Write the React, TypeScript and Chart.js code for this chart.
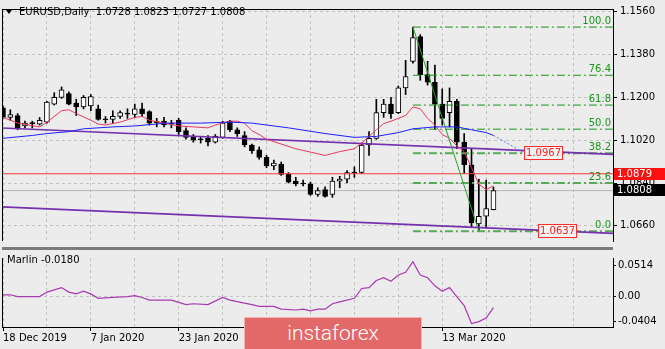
import React, { useEffect, useRef } from "react";
import { Chart, registerables } from "chart.js";

Chart.register(...registerables);

// ---------- DATA ----------
const openP = [1.1156,1.1116,1.1124,1.1080,1.1094,1.1088,1.1096,1.1172,1.1200,1.1216,1.1176,1.1160,1.1164,1.1152,1.1110,1.1108,1.1120,1.1134,1.1128,1.1152,1.1140,1.1098,1.1100,1.1092,1.1104,1.1060,1.1036,1.1026,1.1028,1.1012,1.1032,1.1100,1.1064,1.1040,1.1000,1.0980,1.0948,1.0912,1.0920,1.0876,1.0848,1.0840,1.0836,1.0792,1.0812,1.0792,1.0848,1.0856,1.0886,1.0884,1.1000,1.1028,1.1136,1.1172,1.1136,1.1240,1.1352,1.1456,1.1296,1.1264,1.1172,1.1136,1.1184,1.1012,1.0916,1.0668,1.0700,1.0728];
const highP = [1.1164,1.1148,1.1132,1.1100,1.1100,1.1116,1.1184,1.1220,1.1244,1.1224,1.1192,1.1208,1.1212,1.1168,1.1120,1.1144,1.1144,1.1152,1.1172,1.1176,1.1144,1.1112,1.1116,1.1104,1.1112,1.1072,1.1044,1.1036,1.1040,1.1044,1.1100,1.1104,1.1072,1.1056,1.1004,1.0992,1.0956,1.0936,1.0928,1.0884,1.0864,1.0852,1.0844,1.0820,1.0824,1.0864,1.0868,1.0892,1.0908,1.1008,1.1056,1.1192,1.1192,1.1200,1.1248,1.1356,1.1496,1.1464,1.1352,1.1336,1.1236,1.1240,1.1192,1.1048,1.0984,1.0856,1.0852,1.0823];
const lowP = [1.1112,1.1104,1.1064,1.1072,1.1072,1.1084,1.1092,1.1168,1.1196,1.1168,1.1124,1.1152,1.1144,1.1104,1.1092,1.1092,1.1112,1.1112,1.1116,1.1120,1.1084,1.1076,1.1076,1.1072,1.1044,1.1024,1.1012,1.1008,1.0996,1.1008,1.1028,1.1056,1.1036,1.0992,1.0964,1.0940,1.0904,1.0896,1.0872,1.0840,1.0828,1.0828,1.0788,1.0784,1.0780,1.0780,1.0820,1.0840,1.0864,1.0880,1.0956,1.1024,1.1116,1.1112,1.1132,1.1212,1.1344,1.1272,1.1252,1.1064,1.1084,1.1076,1.0984,1.0880,1.0656,1.0637,1.0650,1.0727];
const closeP = [1.1116,1.1128,1.1072,1.1092,1.1090,1.1104,1.1180,1.1200,1.1232,1.1172,1.1160,1.1200,1.1204,1.1108,1.1106,1.1120,1.1136,1.1130,1.1152,1.1132,1.1092,1.1094,1.1084,1.1088,1.1056,1.1032,1.1020,1.1022,1.1012,1.1036,1.1092,1.1064,1.1048,1.1000,1.0976,1.0948,1.0912,1.0924,1.0876,1.0844,1.0836,1.0836,1.0792,1.0808,1.0784,1.0848,1.0856,1.0884,1.0882,1.1000,1.1028,1.1136,1.1172,1.1132,1.1240,1.1288,1.1452,1.1296,1.1264,1.1172,1.1112,1.1184,1.1012,1.0916,1.0672,1.0700,1.0732,1.0808];

const redMaIdx = [0,2,5,6,8,9,10,12,13,14,16,18,19,20,22,24,26,28,29,31,32,33,34,35,36,40,44,46,48,49,50,51,52,53,55,56,57,58,59,60,61,62,63,64,65,66,67];
const redMaVal = [1.1116,1.1092,1.1076,1.1096,1.1144,1.1148,1.1132,1.1104,1.1088,1.1084,1.1096,1.1116,1.1120,1.1104,1.1092,1.1080,1.1076,1.1072,1.1084,1.1100,1.1100,1.1092,1.1060,1.1044,1.1024,1.0984,1.0956,1.0972,1.0984,1.1008,1.1036,1.1064,1.1090,1.1100,1.1124,1.1160,1.1152,1.1112,1.1084,1.1044,1.1028,1.0996,1.0972,1.0904,1.0836,1.0812,1.0828];

const blueMaIdx = [0,4,6,9,11,15,18,21,22,27,31,34,39,44,48,51,54,56,59,62,64,66,67];
const blueMaVal = [1.1028,1.1040,1.1048,1.1056,1.1068,1.1076,1.1080,1.1088,1.1092,1.1092,1.1096,1.1092,1.1072,1.1048,1.1032,1.1036,1.1052,1.1068,1.1076,1.1076,1.1064,1.1052,1.1040];
const blueShiftIdx = [67, 71.2];
const blueShiftVal = [1.1040, 1.0967];

const upperTrendIdx = [-0.5, 83.5];
const upperTrendVal = [1.1072, 1.0960];
const lowerTrendIdx = [-0.5, 83.5];
const lowerTrendVal = [1.0740, 1.0628];

const fibHighIdx = 56;
const fibHigh = 1.1496;
const fibLowIdx = 65;
const fibLow = 1.0637;
const fibLevels = [0, 23.6, 38.2, 50, 61.8, 76.4, 100];

const resistancePrice = 1.0879;
const bidPrice = 1.0808;

const priceTicks = [1.066, 1.084, 1.102, 1.12, 1.138, 1.156];
const gridBars = [0, 6, 12, 18, 24, 30, 36, 42, 48, 54, 60, 66, 72, 78];
const dateTickIdx = [0, 12, 24, 60];
const dateTickLabels = ["18 Dec 2019", "7 Jan 2020", "23 Jan 2020", "13 Mar 2020"];

const marlinIdx = [0,1,2,3,5,6,8,9,10,11,12,13,15,17,18,19,20,21,23,25,26,28,30,31,34,35,37,38,40,41,42,43,44,45,46,48,49,50,51,52,53,54,55,56,57,58,59,60,61,62,63,64,65,66,67];
const marlinVal = [0.0029,0.0029,0.0,0.0,0.0,0.0073,0.0147,0.0073,0.0044,0.0088,0.0044,-0.0029,-0.0015,0.0,0.0015,-0.0015,-0.0059,-0.0059,-0.0059,-0.0132,-0.0118,-0.0132,-0.0015,-0.0059,-0.0132,-0.0162,-0.0162,-0.0206,-0.022,-0.0206,-0.0235,-0.0206,-0.0206,-0.0118,-0.0088,-0.0029,0.0132,0.0147,0.0264,0.0308,0.025,0.0353,0.0397,0.0573,0.0353,0.0308,0.0176,0.0088,0.0147,0.0,-0.0147,-0.0441,-0.0411,-0.0353,-0.018];
const marlinTicks = [-0.0404, 0, 0.0514];
const marlinTickLabels = ["-0.0404", "0.00", "0.0514"];

const tagIdx = [71.2, 73.1];
const tagPrice = [1.0967, 1.0637];
const tagText = ["1.0967", "1.0637"];

// ---------- STYLE ----------
const FONT = '"DejaVu Sans", Verdana, sans-serif';
const X_MIN = -0.137;
const X_MAX = 83.33;
const GRID = "#c2c2c2";

function lineDs(idx: number[], val: number[], color: string, width: number, dash: number[] = [], order = 0) {
  return {
    type: "line",
    data: idx.map((x, i) => ({ x, y: val[i] })),
    borderColor: color,
    borderWidth: width,
    borderDash: dash,
    pointRadius: 0,
    tension: 0,
    fill: false,
    order,
  };
}

export default function App() {
  const topRef = useRef<HTMLCanvasElement>(null);
  const botRef = useRef<HTMLCanvasElement>(null);

  useEffect(() => {
    const bars = openP.map((_, i) => i);
    const fibPrice = (l: number) => fibLow + ((fibHigh - fibLow) * l) / 100;

    const topOverlay = {
      id: "topOverlay",
      afterDatasetsDraw(chart: any) {
        const { ctx, chartArea, scales } = chart;
        const x = scales.x, y = scales.y;
        ctx.save();
        ctx.font = "10px " + FONT;
        ctx.textAlign = "right";
        ctx.textBaseline = "alphabetic";
        ctx.fillStyle = "#1a961a";
        fibLevels.forEach((l) => {
          ctx.fillText(l.toFixed(1), chartArea.right - 2, y.getPixelForValue(fibPrice(l)) - 3);
        });
        ctx.textAlign = "left";
        ctx.textBaseline = "middle";
        tagText.forEach((t, i) => {
          const px = Math.round(x.getPixelForValue(tagIdx[i]));
          const py = Math.round(y.getPixelForValue(tagPrice[i]));
          const w = Math.round(ctx.measureText(t).width) + 3;
          ctx.fillStyle = "#f3f3f3";
          ctx.fillRect(px, py - 7, w, 14);
          ctx.strokeStyle = "#ff2a2a";
          ctx.lineWidth = 1;
          ctx.strokeRect(px + 0.5, py - 6.5, w, 13);
          ctx.fillStyle = "#ff2020";
          ctx.fillText(t, px + 2, py + 0.5);
        });
        ctx.restore();
      },
      afterDraw(chart: any) {
        const { ctx, chartArea, scales, width } = chart;
        const y = scales.y;
        ctx.save();
        ctx.strokeStyle = "#000";
        ctx.lineWidth = 1;
        ctx.beginPath();
        ctx.moveTo(chartArea.left + 0.5, chartArea.top);
        ctx.lineTo(chartArea.left + 0.5, chartArea.bottom);
        ctx.moveTo(chartArea.left, chartArea.top + 0.5);
        ctx.lineTo(chartArea.right, chartArea.top + 0.5);
        ctx.stroke();
        ctx.font = "10px " + FONT;
        ctx.textAlign = "left";
        ctx.textBaseline = "middle";
        const boxes = [
          { p: resistancePrice, bg: "#ff1010", off: 0 },
          { p: bidPrice, bg: "#000000", off: -1 },
        ];
        boxes.forEach((b) => {
          const py = Math.round(y.getPixelForValue(b.p)) + b.off;
          ctx.fillStyle = b.bg;
          ctx.fillRect(chartArea.right + 1, py - 6, width - chartArea.right - 1, 12);
          ctx.fillStyle = "#ffffff";
          ctx.fillText(b.p.toFixed(4), chartArea.right + 4, py + 0.5);
        });
        ctx.restore();
      },
    };

    const top = new Chart(topRef.current as HTMLCanvasElement, {
      type: "bar",
      data: {
        datasets: [
          {
            type: "bar",
            data: bars.map((i) => ({ x: i, y: [lowP[i], highP[i]] })),
            backgroundColor: "#000",
            borderWidth: 0,
            barThickness: 1,
            grouped: false,
            order: 3,
          },
          {
            type: "bar",
            data: bars.map((i) => ({ x: i, y: [openP[i], closeP[i]] })),
            backgroundColor: bars.map((i) => (closeP[i] >= openP[i] ? "#ffffff" : "#000000")),
            borderColor: "#000",
            borderWidth: 1,
            borderSkipped: false,
            barThickness: 5,
            grouped: false,
            order: 2,
          },
          lineDs([X_MIN - 1, X_MAX + 1], [bidPrice, bidPrice], "#b4b4b4", 1, [], 4),
          lineDs([X_MIN - 1, X_MAX + 1], [resistancePrice, resistancePrice], "#f03a3a", 1.2, [], 1),
          lineDs(upperTrendIdx, upperTrendVal, "#7430ae", 1.6, [], 1),
          lineDs(lowerTrendIdx, lowerTrendVal, "#7430ae", 1.6, [], 1),
          ...fibLevels.map((l) =>
            lineDs(
              [fibHighIdx, X_MAX + 1],
              [fibPrice(l), fibPrice(l)],
              l < 45 ? "#5aa85a" : "#169616",
              l < 45 ? 2 : 1,
              [8, 3, 2, 3],
              1
            )
          ),
          lineDs([fibHighIdx, fibLowIdx], [fibHigh, fibLow], "#28a028", 1, [], 0),
          lineDs(blueMaIdx, blueMaVal, "#1e1eff", 1, [], 0),
          lineDs(blueShiftIdx, blueShiftVal, "#5a78ff", 1, [2, 2], 0),
          lineDs(redMaIdx, redMaVal, "#e8385c", 1, [], 0),
        ] as any,
      },
      options: {
        animation: false,
        responsive: false,
        maintainAspectRatio: false,
        devicePixelRatio: 1,
        events: [],
        layout: { padding: { left: 2, top: 3, right: 0, bottom: 3 } },
        plugins: { legend: { display: false }, tooltip: { enabled: false }, title: { display: false } },
        scales: {
          x: {
            type: "linear",
            min: X_MIN,
            max: X_MAX,
            offset: false,
            afterBuildTicks: (s: any) => {
              s.ticks = gridBars.map((v) => ({ value: v }));
            },
            afterFit: (s: any) => {
              s.height = 0;
            },
            ticks: { display: false },
            grid: { color: GRID, drawTicks: false, offset: false, lineWidth: 1 },
            border: { display: false, dash: [3, 3] },
          },
          y: {
            type: "linear",
            position: "right",
            min: 1.0596,
            max: 1.1572,
            afterBuildTicks: (s: any) => {
              s.ticks = priceTicks.map((v) => ({ value: v }));
            },
            afterFit: (s: any) => {
              s.width = 52;
            },
            ticks: {
              autoSkip: false,
              color: "#000",
              padding: 3,
              font: { family: FONT, size: 10 },
              callback: (v: any) => Number(v).toFixed(4),
            },
            grid: { color: GRID, tickColor: "#000", tickLength: 4, tickBorderDash: [], lineWidth: 1 },
            border: { display: true, color: "#000", width: 1, dash: [3, 3] },
          },
        },
      } as any,
      plugins: [topOverlay],
    });

    const botOverlay = {
      id: "botOverlay",
      afterDraw(chart: any) {
        const { ctx, chartArea } = chart;
        ctx.save();
        ctx.strokeStyle = "#000";
        ctx.lineWidth = 1;
        ctx.beginPath();
        ctx.moveTo(chartArea.left + 0.5, chartArea.top);
        ctx.lineTo(chartArea.left + 0.5, chartArea.bottom);
        ctx.stroke();
        ctx.restore();
      },
    };

    const bot = new Chart(botRef.current as HTMLCanvasElement, {
      type: "line",
      data: {
        datasets: [lineDs(marlinIdx, marlinVal, "#a83ab0", 1.2, [], 0)] as any,
      },
      options: {
        animation: false,
        responsive: false,
        maintainAspectRatio: false,
        devicePixelRatio: 1,
        events: [],
        layout: { padding: { left: 2, top: 0, right: 0, bottom: 0 } },
        plugins: { legend: { display: false }, tooltip: { enabled: false }, title: { display: false } },
        scales: {
          x: {
            type: "linear",
            min: X_MIN,
            max: X_MAX,
            offset: false,
            afterBuildTicks: (s: any) => {
              s.ticks = gridBars.map((v) => ({ value: v }));
            },
            afterFit: (s: any) => {
              s.height = 22;
            },
            ticks: {
              autoSkip: false,
              maxRotation: 0,
              minRotation: 0,
              align: "start",
              padding: 1,
              color: "#000",
              font: { family: FONT, size: 10 },
              callback: (v: any) => {
                const k = dateTickIdx.indexOf(Number(v));
                return k >= 0 ? dateTickLabels[k] : "";
              },
            },
            grid: {
              color: GRID,
              offset: false,
              tickLength: 4,
              tickBorderDash: [],
              tickColor: (c: any) => (c.tick && dateTickIdx.indexOf(c.tick.value) >= 0 ? "#000" : "rgba(0,0,0,0)"),
            },
            border: { display: true, color: "#000", width: 1, dash: [3, 3] },
          },
          y: {
            type: "linear",
            position: "right",
            min: -0.0499,
            max: 0.0632,
            afterBuildTicks: (s: any) => {
              s.ticks = marlinTicks.map((v) => ({ value: v }));
            },
            afterFit: (s: any) => {
              s.width = 52;
            },
            ticks: {
              autoSkip: false,
              color: "#000",
              padding: 2,
              font: { family: FONT, size: 10 },
              callback: (v: any) => {
                const k = marlinTicks.indexOf(Number(v));
                return k >= 0 ? marlinTickLabels[k] : "";
              },
            },
            grid: {
              color: (c: any) => (c.tick && c.tick.value === 0 ? GRID : "rgba(0,0,0,0)"),
              tickColor: "#000",
              tickLength: 3,
              tickBorderDash: [],
            },
            border: { display: true, color: "#000", width: 1, dash: [3, 3] },
          },
        },
      } as any,
      plugins: [botOverlay],
    });

    return () => {
      top.destroy();
      bot.destroy();
    };
  }, []);

  return (
    <div
      style={{
        position: "fixed",
        left: 0,
        top: 0,
        width: 665,
        height: 349,
        background: "#ececec",
        overflow: "hidden",
        fontFamily: FONT,
      }}
    >
      <canvas ref={topRef} width={665} height={250} style={{ position: "absolute", left: 0, top: 0 }} />
      <canvas ref={botRef} width={665} height={99} style={{ position: "absolute", left: 0, top: 250 }} />
      <div
        style={{
          position: "absolute",
          left: 6,
          top: 10,
          width: 0,
          height: 0,
          borderLeft: "3.5px solid transparent",
          borderRight: "3.5px solid transparent",
          borderTop: "4px solid #000",
        }}
      />
      <div
        style={{
          position: "absolute",
          left: 19,
          top: 6,
          fontSize: 10,
          lineHeight: "12px",
          color: "#000",
          whiteSpace: "pre",
        }}
      >
        {"EURUSD,Daily  1.0728 1.0823 1.0727 1.0808"}
      </div>
      <div style={{ position: "absolute", left: 2, top: 247, width: 611, height: 3, background: "#7c7c7c" }} />
      <div
        style={{
          position: "absolute",
          left: 7,
          top: 254,
          fontSize: 10,
          lineHeight: "12px",
          color: "#000",
          whiteSpace: "pre",
        }}
      >
        {"Marlin -0.0180"}
      </div>
      <div
        style={{
          position: "absolute",
          left: 244,
          top: 317,
          width: 178,
          height: 34,
          boxSizing: "border-box",
          background: "#e36868",
          border: "1px solid #f2b4b4",
          color: "#ffffff",
          fontFamily: "Roboto, 'Liberation Sans', sans-serif",
          fontWeight: 300,
          fontSize: 21,
          lineHeight: "31px",
          textAlign: "center",
        }}
      >
        instaforex
      </div>
    </div>
  );
}
